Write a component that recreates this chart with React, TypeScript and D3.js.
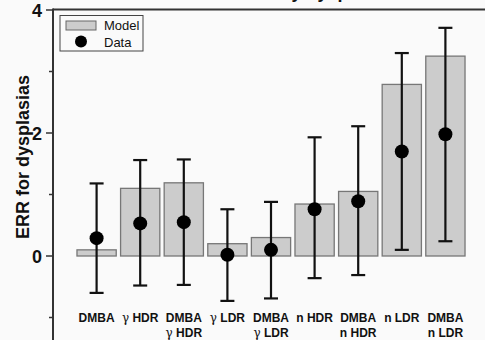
import React from "react";
import * as d3 from "d3";

const categories = [
  ["DMBA"],
  ["γ HDR"],
  ["DMBA", "γ HDR"],
  ["γ LDR"],
  ["DMBA", "γ LDR"],
  ["n HDR"],
  ["DMBA", "n HDR"],
  ["n LDR"],
  ["DMBA", "n LDR"],
];
const modelValues = [0.1, 1.1, 1.19, 0.2, 0.3, 0.845, 1.05, 2.79, 3.25];
const dataValues = [0.29, 0.53, 0.55, 0.02, 0.1, 0.76, 0.89, 1.7, 1.98];
const errUpper = [1.18, 1.56, 1.57, 0.76, 0.88, 1.93, 2.11, 3.3, 3.71];
const errLower = [-0.6, -0.48, -0.47, -0.73, -0.69, -0.36, -0.31, 0.1, 0.24];
const majorTicks = [0, 2, 4];
const minorTicks = [-1, 1, 3];

const W = 485;
const H = 340;
const FONT = "'Liberation Sans', Arial, sans-serif";

export default function App() {
  const x = d3.scaleLinear().domain([0, 10]).range([53, 489]);
  const y = d3.scaleLinear().domain([0, 4]).range([256, 10]);
  const step = x(1) - x(0);
  const barW = step * 0.9;
  const capHalf = 7;

  const renderLabel = (line: string, key: number, yy: number, cx: number) => {
    const m = line.match(/^γ (.*)$/);
    if (m) {
      return (
        <text key={key} x={cx} y={yy} textAnchor="middle" fontSize={12} fontFamily={FONT} fill="#111">
          <tspan fontFamily="'DejaVu Serif', serif" fontWeight="normal" fontSize={12}>γ</tspan>
          <tspan fontWeight="bold"> {m[1]}</tspan>
        </text>
      );
    }
    return (
      <text key={key} x={cx} y={yy} textAnchor="middle" fontSize={12} fontWeight="bold" fontFamily={FONT} fill="#111">
        {line}
      </text>
    );
  };

  return (
    <div style={{ position: "fixed", left: 0, top: 0, width: W, height: H, background: "#fafafa" }}>
      <svg width={W} height={H} style={{ display: "block" }}>
        <rect x={0} y={0} width={W} height={H} fill="#fafafa" />
        {/* title, clipped at the top edge as in the reference */}
        <text x={318} y={-2} textAnchor="middle" fontSize={18} fontWeight="bold" fontFamily={FONT} fill="#111">
          ERR by dysplasias
        </text>
        {/* bars */}
        {modelValues.map((v, i) => (
          <rect
            key={"b" + i}
            x={x(i + 1) - barW / 2}
            y={Math.min(y(v), y(0))}
            width={barW}
            height={Math.abs(y(0) - y(v))}
            fill="#cccccc"
            stroke="#777"
            strokeWidth={1.3}
          />
        ))}
        {/* error bars */}
        {dataValues.map((v, i) => {
          const cx = x(i + 1);
          return (
            <g key={"e" + i} stroke="#111" strokeWidth={2.2}>
              <line x1={cx} x2={cx} y1={y(errUpper[i])} y2={y(errLower[i])} />
              <line x1={cx - capHalf} x2={cx + capHalf} y1={y(errUpper[i])} y2={y(errUpper[i])} />
              <line x1={cx - capHalf} x2={cx + capHalf} y1={y(errLower[i])} y2={y(errLower[i])} />
            </g>
          );
        })}
        {dataValues.map((v, i) => (
          <circle key={"d" + i} cx={x(i + 1)} cy={y(v)} r={7} fill="#000" />
        ))}
        {/* frame */}
        <line x1={53} x2={W} y1={9.5} y2={9.5} stroke="#333" strokeWidth={2} />
        <line x1={53} x2={53} y1={8.5} y2={H} stroke="#333" strokeWidth={2} />
        {majorTicks.map((t) => (
          <g key={"t" + t}>
            <line x1={46} x2={53} y1={y(t)} y2={y(t)} stroke="#333" strokeWidth={1.5} />
            <text x={42} y={y(t) + 6.5} textAnchor="end" fontSize={18} fontWeight="bold" fontFamily={FONT} fill="#111">
              {t}
            </text>
          </g>
        ))}
        {minorTicks.map((t) => (
          <line key={"m" + t} x1={49} x2={53} y1={y(t)} y2={y(t)} stroke="#333" strokeWidth={1.5} />
        ))}
        <text
          transform={`translate(29,157) rotate(-90)`}
          textAnchor="middle"
          fontSize={18}
          fontWeight="bold"
          fontFamily={FONT}
          fill="#111"
        >
          ERR for dysplasias
        </text>
        {/* x labels */}
        {categories.map((lines, i) => (
          <g key={"l" + i}>
            {lines.map((ln, j) => renderLabel(ln, j, 322 + j * 15, x(i + 1)))}
          </g>
        ))}
        {/* legend */}
        <rect x={60} y={15.5} width={83} height={35.5} fill="#fafafa" stroke="#444" strokeWidth={1} />
        <rect x={66} y={21} width={30} height={9} fill="#cccccc" stroke="#666" strokeWidth={1} />
        <circle cx={81} cy={41.5} r={6} fill="#000" />
        <text x={104} y={30} fontSize={13} fontFamily={FONT} fill="#111">Model</text>
        <text x={104} y={47} fontSize={13} fontFamily={FONT} fill="#111">Data</text>
      </svg>
    </div>
  );
}
